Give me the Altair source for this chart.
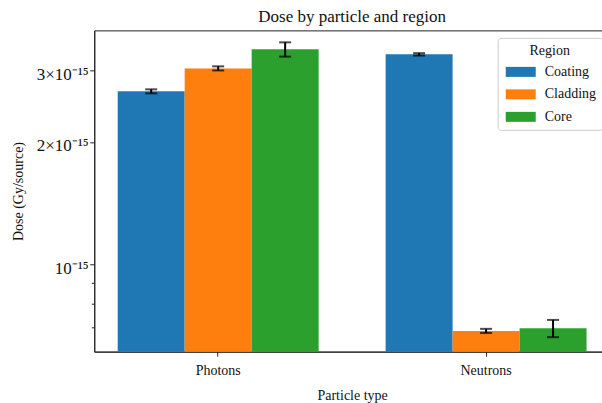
import altair as alt
import pandas as pd

# ---- data ----
particles = ["Photons", "Photons", "Photons", "Neutrons", "Neutrons", "Neutrons"]
regions = ["Coating", "Cladding", "Core", "Coating", "Cladding", "Core"]
dose = [2.661e-15, 3.029e-15, 3.373e-15, 3.279e-15, 6.88e-16, 6.98e-16]
dose_err = [0.030e-15, 0.035e-15, 0.136e-15, 0.022e-15, 0.008e-15, 0.034e-15]

particle_order = ["Photons", "Neutrons"]
region_order = ["Coating", "Cladding", "Core"]
region_colors = ["#1f77b4", "#ff7f0e", "#2ca02c"]

y_domain = [6.12e-16, 3.754e-15]
major_ticks = [1e-15, 2e-15, 3e-15]
major_labels = ["10⁻¹⁵", "2×10⁻¹⁵", "3×10⁻¹⁵"]
minor_ticks = [7e-16, 8e-16, 9e-16]

FONT = "Liberation Serif"

df = pd.DataFrame({
    "particle": particles,
    "region": regions,
    "dose": dose,
    "err": dose_err,
})
minor_df = pd.DataFrame({"v": minor_ticks})

# label expression built from tick lists
expr = "''"
for t, lab in zip(major_ticks, major_labels):
    expr = f"abs(datum.value - {t}) < {t * 0.01} ? '{lab}' : ({expr})"

yscale = alt.Scale(type="log", domain=y_domain)
yaxis = alt.Axis(
    values=major_ticks,
    labelExpr=expr,
    title="Dose (Gy/source)",
    grid=False,
    tickSize=4.5,
    labelPadding=1.5,
    labelFontSize=17,
    labelOffset=4,
    titleX=-76,
    titleY=160.7,
    titleAngle=-90,
    titleAlign="center",
    titleBaseline="middle",
)

xenc = alt.X(
    "particle:N",
    sort=particle_order,
    scale=alt.Scale(range=[0, 516], paddingInner=0.25, paddingOuter=0.0875),
    axis=alt.Axis(title="Particle type", labelAngle=0, tickSize=4.5,
                  labelPadding=7, titlePadding=11),
)
xoff = alt.XOffset("region:N", sort=region_order,
                   scale=alt.Scale(paddingInner=0, paddingOuter=0))

base = alt.Chart(df)

bars = base.mark_bar().encode(
    x=xenc,
    xOffset=xoff,
    y=alt.Y("dose:Q", scale=yscale, axis=yaxis),
    y2=alt.Y2(datum=y_domain[0]),
    color=alt.Color(
        "region:N",
        sort=region_order,
        scale=alt.Scale(domain=region_order, range=region_colors),
        legend=alt.Legend(
            title="Region",
            orient="none",
            legendX=403.7,
            legendY=7.5,
            symbolType="M-3,-1H3V1H-3Z",
            symbolSize=100,
            symbolOffset=10,
            symbolStrokeWidth=0,
            labelOffset=17,
            rowPadding=8.5,
            padding=6,
            titlePadding=7,
            titleAnchor="middle",
            fillColor="white",
            strokeColor="#cccccc",
            cornerRadius=3,
            labelFontSize=14,
            titleFontSize=14,
            titleFontWeight="normal",
            labelFont=FONT,
            titleFont=FONT,
            labelColor="#111",
            titleColor="#111",
        ),
    ),
)

err_rule = base.transform_calculate(
    lo="datum.dose - datum.err", hi="datum.dose + datum.err"
).mark_rule(color="black", strokeWidth=2).encode(
    x=xenc, xOffset=xoff,
    y=alt.Y("lo:Q", scale=yscale, axis=yaxis),
    y2="hi:Q",
)

cap_lo = base.transform_calculate(lo="datum.dose - datum.err").mark_tick(
    color="black", size=12, thickness=2, orient="horizontal"
).encode(x=xenc, xOffset=xoff, y=alt.Y("lo:Q", scale=yscale, axis=yaxis))

cap_hi = base.transform_calculate(hi="datum.dose + datum.err").mark_tick(
    color="black", size=12, thickness=2, orient="horizontal"
).encode(x=xenc, xOffset=xoff, y=alt.Y("hi:Q", scale=yscale, axis=yaxis))

minor = alt.Chart(minor_df).mark_rule(color="#222", strokeWidth=1, clip=False).encode(
    y=alt.Y("v:Q", scale=yscale, axis=yaxis),
    x=alt.value(0),
    x2=alt.value(-2.5),
)

chart = alt.layer(bars, err_rule, cap_lo, cap_hi, minor).properties(
    width=508,
    height=321.4,
    autosize="none",
    padding={"left": 94.3, "top": 30.3, "right": 0, "bottom": 51.3},
    title=alt.TitleParams(
        "Dose by particle and region",
        font=FONT, fontSize=17, fontWeight="normal", color="#111",
        anchor="middle", dx=4, baseline="alphabetic", offset=-9,
    ),
).configure_view(
    stroke="#222", strokeWidth=1
).configure_axis(
    labelFont=FONT, titleFont=FONT, labelFontSize=14, titleFontSize=14,
    titleFontWeight="normal", labelColor="#111", titleColor="#111",
    domainColor="#222", tickColor="#222", domainWidth=1, tickWidth=1,
)

chart.save("out.html", embed_options={"renderer": "svg", "actions": False})
